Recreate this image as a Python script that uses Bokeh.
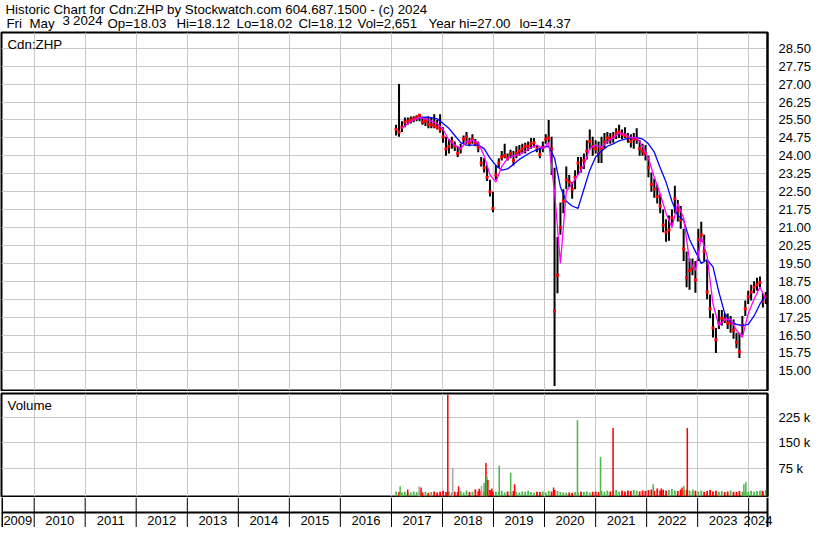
import numpy as np
import pandas as pd
from bokeh.plotting import figure
from bokeh.layouts import column
from bokeh.models import (Range1d, FixedTicker, Grid, Label, LabelSet,
                          NumeralTickFormatter, ColumnDataSource)
from bokeh.core.properties import value
from bokeh.embed import file_html
from bokeh.resources import INLINE

FONT = "Liberation Sans"
W = 814
RB = 47

# ---------------- header texts ----------------
header_line1 = "Historic Chart for Cdn:ZHP by Stockwatch.com 604.687.1500 - (c) 2024"
header_tokens = ["Fri", "May", "3", "2024", "Op=18.03", "Hi=18.12", "Lo=18.02",
                 "Cl=18.12", "Vol=2,651", "Year hi=27.00", "lo=14.37"]
header_token_x = [6, 29, 62, 72.5, 107, 176, 236, 298, 357, 428, 519]
symbol_label = "Cdn:ZHP"
volume_label = "Volume"

# ---------------- price data (every 3 weeks, ending 2024-05-03) ----------------
bar_dates = pd.date_range(end="2024-05-03", periods=127, freq="21D")
bar_low = [24.85, 24.80, 25.00, 25.20, 25.30, 25.35, 25.40, 25.45, 25.45, 25.30,
           25.25, 25.15, 25.15, 25.15, 25.10, 24.97, 24.55, 24.00, 24.10, 24.30,
           24.20, 23.95, 24.10, 24.50, 24.50, 24.40, 24.50, 24.40, 24.15, 23.55,
           23.30, 22.95, 22.30, 21.64, 23.00, 23.50, 23.80, 23.90, 23.80, 23.90,
           23.60, 23.90, 24.00, 24.10, 24.10, 24.20, 24.30, 24.35, 24.15, 23.90,
           24.15, 24.50, 24.55, 23.20, 14.37, 18.25, 20.70, 21.60, 22.60, 22.70,
           22.20, 22.60, 23.20, 23.30, 23.45, 23.85, 24.25, 24.00, 24.10, 23.70,
           23.70, 24.30, 24.50, 24.50, 24.55, 24.70, 24.75, 24.70, 24.75, 24.55,
           24.35, 24.30, 24.50, 24.00, 24.00, 23.80, 23.10, 22.50, 22.25, 22.00,
           21.60, 20.80, 20.40, 20.45, 21.10, 21.60, 21.25, 20.95, 19.60, 18.50,
           18.40, 19.00, 18.27, 19.60, 20.40, 19.60, 18.00, 17.20, 16.40, 15.75,
           16.75, 16.90, 17.00, 16.75, 16.60, 16.35, 15.95, 15.54, 16.50, 17.30,
           17.80, 17.95, 18.25, 18.35, 18.50, 17.65, 17.80]
bar_high = [25.30, 27.00, 25.45, 25.60, 25.60, 25.65, 25.66, 25.70, 25.75, 25.65,
            25.60, 25.66, 25.60, 25.74, 25.50, 25.74, 25.20, 24.80, 24.70, 24.80,
            24.60, 24.40, 24.50, 24.85, 25.00, 24.75, 24.90, 24.70, 24.60, 23.95,
            23.90, 23.60, 23.00, 22.50, 23.60, 23.90, 24.20, 24.50, 24.10, 24.25,
            24.20, 24.40, 24.45, 24.50, 24.55, 24.60, 24.75, 24.75, 24.45, 24.35,
            24.60, 24.90, 25.50, 24.80, 23.50, 20.60, 22.05, 22.60, 23.55, 23.20,
            22.90, 23.40, 23.95, 23.95, 24.10, 24.65, 25.10, 24.80, 24.65, 24.60,
            24.80, 24.95, 25.00, 24.95, 25.00, 25.15, 25.30, 25.10, 25.20, 24.95,
            24.90, 24.95, 25.15, 24.65, 24.50, 24.45, 24.00, 23.30, 23.05, 22.80,
            22.40, 21.75, 21.35, 21.50, 21.75, 22.75, 22.15, 21.90, 20.95, 20.00,
            19.70, 19.70, 19.60, 20.95, 21.24, 20.70, 19.60, 18.20, 17.40, 16.80,
            17.55, 17.55, 17.40, 17.40, 17.30, 17.15, 16.60, 16.60, 17.30, 17.95,
            18.35, 18.60, 18.75, 18.90, 18.95, 18.25, 18.30]
bar_close = [25.10, 25.00, 25.20, 25.40, 25.45, 25.50, 25.55, 25.60, 25.70, 25.40,
             25.45, 25.30, 25.30, 25.25, 25.20, 25.10, 24.80, 24.30, 24.40, 24.60,
             24.40, 24.10, 24.30, 24.70, 24.80, 24.55, 24.70, 24.50, 24.35, 23.70,
             23.50, 23.10, 22.50, 21.80, 23.20, 23.70, 23.95, 24.00, 23.90, 24.10,
             23.80, 24.10, 24.20, 24.30, 24.40, 24.40, 24.50, 24.55, 24.30, 24.05,
             24.35, 24.70, 24.75, 24.30, 17.50, 19.00, 21.00, 22.10, 23.00, 22.90,
             22.60, 23.10, 23.70, 23.50, 23.80, 24.20, 24.60, 24.40, 24.30, 24.10,
             24.30, 24.60, 24.75, 24.70, 24.80, 24.95, 25.00, 24.90, 24.85, 24.75,
             24.60, 24.70, 24.70, 24.30, 24.20, 24.10, 23.50, 22.80, 22.60, 22.30,
             21.90, 21.10, 20.80, 20.90, 21.40, 22.20, 21.70, 21.30, 20.10, 18.90,
             19.20, 19.30, 18.80, 20.50, 20.70, 20.00, 18.30, 17.60, 16.80, 16.30,
             17.00, 17.20, 17.15, 17.00, 17.00, 16.70, 16.20, 15.80, 16.90, 17.60,
             18.10, 18.30, 18.50, 18.60, 18.70, 17.90, 18.12]

# moving averages, read at every second bar
nan = float("nan")
ma_dates = bar_dates[::2]
ma_long = [nan, nan, nan, nan, 25.60, 25.62, 25.60, 25.55, 25.35, 25.15,
           24.85, 24.55, 24.45, 24.45, 24.45, 24.30, 23.90, 23.60, 23.40, 23.45,
           23.65, 23.85, 24.00, 24.15, 24.25, 24.35, 24.40, 23.90, 22.70, 22.10,
           21.90, 21.80, 22.60, 23.40, 23.95, 24.20, 24.40, 24.50, 24.63, 24.70,
           24.75, 24.77, 24.70, 24.50, 24.15, 23.50, 22.90, 22.10, 21.50, 21.30,
           20.50, 20.00, 19.50, 19.65, 19.35, 18.30, 17.40, 17.05, 16.95, 16.90,
           16.95, 17.30, 17.80, 18.15]
ma_short = [nan, 25.15, 25.35, 25.50, 25.60, 25.55, 25.45, 25.35, 25.10, 24.65,
            24.45, 24.30, 24.60, 24.65, 24.55, 24.00, 23.20, 22.90, 23.55, 23.90,
            24.00, 24.05, 24.20, 24.35, 24.45, 24.30, 24.55, 22.50, 19.50, 22.50,
            22.85, 23.20, 23.60, 24.30, 24.45, 24.35, 24.60, 24.75, 24.95, 24.90,
            24.75, 24.75, 24.40, 23.90, 23.10, 22.40, 21.60, 21.00, 22.00, 21.40,
            19.60, 19.20, 20.60, 19.80, 17.80, 16.90, 17.15, 17.15, 16.70, 16.40,
            17.40, 18.00, 18.50, 18.00]

price_ticks = [15.00, 15.75, 16.50, 17.25, 18.00, 18.75, 19.50, 20.25, 21.00, 21.75,
               22.50, 23.25, 24.00, 24.75, 25.50, 26.25, 27.00, 27.75, 28.50]

# ---------------- volume data (thousands) ----------------
base_vol_k = [6, 4, 3, 5, 2, 3, 6, 4, 7, 3, 5, 2, 4, 6, 3, 5, 8,
              4, 6, 3, 5, 4, 7, 3, 9, 4, 5, 12, 6, 8, 5, 7, 10, 6,
              5, 4, 8, 3, 6, 5, 7, 4, 3, 6, 5, 8, 4, 3, 5, 4, 6,
              3, 8, 6, 10, 7, 4, 3, 2, 3, 2, 4, 3, 5, 4, 6, 3, 5,
              6, 4, 8, 5, 9, 6, 7, 10, 5, 8, 6, 9, 7, 11, 8, 6, 9,
              7, 10, 12, 8, 15, 9, 11, 8, 10, 13, 9, 7, 12, 8, 10, 9, 6,
              8, 6, 9, 5, 7, 10, 6, 8, 5, 7, 4, 6, 9, 5, 4, 7, 5,
              6, 4, 8, 5, 7, 9, 6, 10]
spike_dates = ["2017-03-04", "2017-04-27", "2017-07-18", "2017-08-01", "2018-02-08",
               "2018-03-15", "2018-04-26", "2018-09-21", "2018-10-07", "2018-10-26",
               "2018-11-08", "2018-11-15", "2018-11-22", "2018-12-20", "2019-02-11",
               "2019-05-04", "2019-06-01", "2020-03-06", "2020-08-24", "2021-02-05",
               "2021-05-06", "2022-02-17", "2022-04-16", "2022-09-11", "2022-09-25",
               "2022-10-19", "2022-11-28", "2023-11-28", "2023-12-12", "2024-04-08"]
spike_vol_k = [21, 12, 21, 18, 292, 76, 21, 14, 23, 31,
               90, 50, 40, 15, 82, 61, 27, 18, 217, 108,
               194, 27, 15, 18, 23, 194, 12, 27, 33, 8]
spike_kind = ["g", "r", "n", "r", "r", "n", "r", "r", "n", "g",
              "r", "g", "r", "r", "g", "g", "r", "r", "g", "g",
              "r", "g", "r", "r", "g", "r", "g", "g", "g", "r"]
vol_ticks = [75000, 150000, 225000]
vol_tick_labels = ["75 k", "150 k", "225 k"]

years = list(range(2009, 2025))

# ---------------- helpers ----------------
RED, GREEN, GRAY = "#ff0000", "#4cb84c", "#a8a8a8"
GRIDC = "#c8c8c8"
kind_color = {"r": RED, "g": GREEN, "n": GRAY}

def ms(t):
    return pd.Timestamp(t).value / 1e6

x0, x1 = ms("2009-05-12"), ms("2024-05-15")
year_bounds = [ms(f"{y}-01-01") for y in years[1:]]
DAY = 86400000.0
FW = W - 1 - RB   # frame width of the chart panels

# ---------------- header ----------------
HH = 31
h = figure(width=W, height=HH, x_range=Range1d(0, W), y_range=Range1d(HH, 0),
           x_axis_location=None, y_axis_location=None, output_backend="svg",
           toolbar_location=None, min_border=0, outline_line_color=None, title=None,
           frame_align=False,
           background_fill_color="white", border_fill_color="white")
h.grid.visible = False
h.text(x=[5], y=[1.0], text=[header_line1], text_font=value(FONT),
       text_font_size="13.3px", text_color="black", text_baseline="top")
h.text(x=header_token_x, y=[15.0] * len(header_tokens), text=header_tokens,
       text_font=value(FONT), text_font_size="13.3px", text_color="black",
       text_baseline="top")

# ---------------- price panel ----------------
PH = 360
py0, py1 = 14.18, 29.16
p = figure(width=W, height=PH, x_range=Range1d(x0, x1), y_range=Range1d(py0, py1),
           x_axis_location=None, y_axis_location="right", title=None,
           output_backend="svg", toolbar_location=None, frame_align=False,
           min_border_left=1, min_border_right=RB, min_border_top=1, min_border_bottom=1,
           background_fill_color="white", border_fill_color="white",
           outline_line_color="black", outline_line_width=2, outline_line_alpha=1)
p.xgrid.visible = False
p.yaxis.ticker = FixedTicker(ticks=price_ticks)
p.yaxis.formatter = NumeralTickFormatter(format="0.00")
p.ygrid.grid_line_color = GRIDC
p.add_layout(Grid(dimension=0, ticker=FixedTicker(ticks=year_bounds), grid_line_color=GRIDC))
ax = p.yaxis[0]
ax.major_tick_line_color = None
ax.minor_tick_line_color = None
ax.axis_line_color = "black"
ax.axis_line_width = 2
ax.major_label_standoff = 5
ax.major_label_text_font = FONT
ax.major_label_text_font_size = "13px"
ax.major_label_text_color = "black"

p.segment(x0=bar_dates, y0=bar_low, x1=bar_dates, y1=bar_high, line_color="black", line_width=2)
p.scatter(x=bar_dates, y=bar_close, marker="square", size=3, color=RED, line_width=0)
p.line(x=ma_dates, y=ma_long, line_color="#0000ff", line_width=1.3)
p.line(x=ma_dates, y=ma_short, line_color="#ff00ff", line_width=1.3)

pfh = PH - 2
p.add_layout(Label(x=x0 + 6 * (x1 - x0) / FW, y=py1 - 4 * (py1 - py0) / pfh,
                   text=symbol_label, text_baseline="top", text_font=FONT,
                   text_font_size="13.3px", text_color="black"))

# ---------------- volume panel ----------------
VH = 106
vy0, vy1 = -9000, 296000
v = figure(width=W, height=VH, x_range=p.x_range, y_range=Range1d(vy0, vy1),
           x_axis_location=None, y_axis_location="right", title=None,
           output_backend="svg", toolbar_location=None, frame_align=False,
           min_border_left=1, min_border_right=RB, min_border_top=2, min_border_bottom=1,
           background_fill_color="white", border_fill_color="white",
           outline_line_color="black", outline_line_width=2)
v.xgrid.visible = False
v.yaxis.ticker = FixedTicker(ticks=vol_ticks)
v.yaxis.major_label_overrides = {t: s for t, s in zip(vol_ticks, vol_tick_labels)}
v.ygrid.grid_line_color = GRIDC
v.add_layout(Grid(dimension=0, ticker=FixedTicker(ticks=year_bounds), grid_line_color=GRIDC))
vax = v.yaxis[0]
vax.major_tick_line_color = None
vax.minor_tick_line_color = None
vax.axis_line_color = "black"
vax.axis_line_width = 2
vax.major_label_standoff = 5
vax.major_label_text_font = FONT
vax.major_label_text_font_size = "13px"
vax.major_label_text_color = "black"

base_colors = [GREEN] + [GREEN if bar_close[i] >= bar_close[i - 1] else RED
                         for i in range(1, len(bar_close))]
v.vbar(x=bar_dates, top=[k * 1000 for k in base_vol_k], bottom=vy0,
       width=13 * DAY, fill_color=base_colors, line_color=None)
v.vbar(x=pd.to_datetime(spike_dates), top=[k * 1000 for k in spike_vol_k], bottom=vy0,
       width=11 * DAY, fill_color=[kind_color[k] for k in spike_kind], line_color=None)

vfh = VH - 3
v.add_layout(Label(x=x0 + 6 * (x1 - x0) / FW, y=vy1 - 4 * (vy1 - vy0) / vfh,
                   text=volume_label, text_baseline="top", text_font=FONT,
                   text_font_size="13.3px", text_color="black"))

# ---------------- date panel (frame spans full width, same time scale) ----------------
DH = 30
x1_ext = x1 + RB * (x1 - x0) / FW
d = figure(width=W, height=DH, x_range=Range1d(x0, x1_ext), y_range=Range1d(0, 2),
           x_axis_location=None, y_axis_location=None, title=None,
           output_backend="svg", toolbar_location=None, frame_align=False,
           min_border_left=1, min_border_right=0, min_border_top=0, min_border_bottom=0,
           background_fill_color="white", border_fill_color="white",
           outline_line_color=None)
d.grid.visible = False
d.segment(x0=year_bounds, y0=0, x1=year_bounds, y1=2, line_color="black", line_width=1)
d.segment(x0=[x0], y0=[1.0], x1=[x1], y1=[1.0], line_color="black", line_width=2)
d.segment(x0=[x0], y0=[0], x1=[x0], y1=[2], line_color="black", line_width=3)
d.segment(x0=[x1], y0=[0], x1=[x1], y1=[2], line_color="black", line_width=2)
label_x = []
for y in years:
    a = max(ms(f"{y}-01-01"), x0)
    b = min(ms(f"{y + 1}-01-01"), x1)
    label_x.append((a + b) / 2)
ysrc = ColumnDataSource(dict(x=label_x, y=[0.48] * len(years), t=[str(y) for y in years]))
d.add_layout(LabelSet(x="x", y="y", text="t", source=ysrc, text_align="center",
                      text_baseline="middle", text_font=value(FONT),
                      text_font_size="13px", text_color="black"))

layout = column(h, p, v, d, spacing=0)
open("out.html", "w").write(file_html(layout, INLINE))
